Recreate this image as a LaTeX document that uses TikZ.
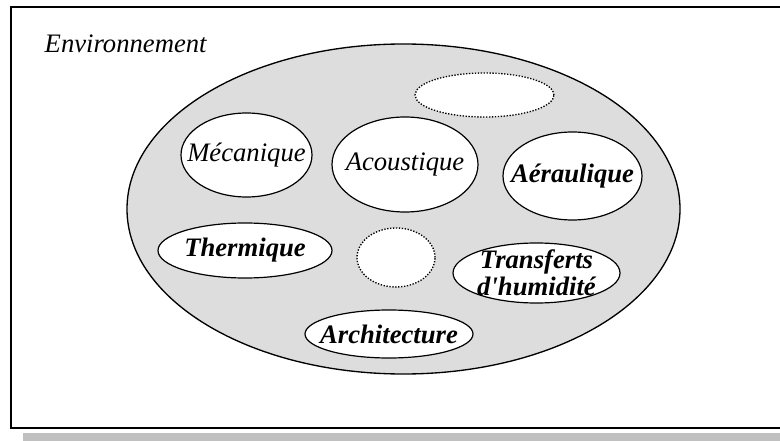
\documentclass[tikz,border=0pt]{standalone}
\usepackage{fontspec}
\setmainfont{Liberation Serif}
\usepackage{tikz}
\usetikzlibrary{shapes.geometric}

\begin{document}
\begin{tikzpicture}[x=0.75pt,y=0.75pt,yscale=-1,xscale=1,
        areabox/.style={ellipse, draw, line width=0.9pt, fill=white, inner sep=0pt},
        itext/.style={font=\fontsize{20}{20}\selectfont\itshape, inner sep=0pt},
        btext/.style={font=\fontsize{20}{20}\selectfont\bfseries\itshape, inner sep=0pt, align=center},
        voidbox/.style={ellipse, draw, line width=1pt, dash pattern=on 1pt off 1.2pt, fill=white, inner sep=0pt}]
        \useasboundingbox (0,0) rectangle (780,441);
        \clip (0,0) rectangle (780,441);
        % frame and shadow
        \fill [color={rgb,255:red,192;green,192;blue,192}] (23,433) rectangle (790,441);
        \draw [line width=1.2pt] (11,7) rectangle (790,428);
        \node (env) at (40,53) [anchor=base west, font=\fontsize{20}{20}\selectfont\itshape] {Environnement};
        % big ellipse
        \node (field) at (403.5,209) [ellipse, draw, line width=1pt, fill={rgb,255:red,221;green,221;blue,221}, minimum width=414.75pt, minimum height=247.5pt] {};
        % domains
        \node (meca) at (246.5,155) [areabox, minimum width=98.25pt, minimum height=63pt, label={[itext]center:Mécanique}] {};
        \node (acou) at (405,164.5) [areabox, minimum width=109.5pt, minimum height=71.25pt, label={[itext]center:Acoustique}] {};
        \node (aera) at (572.5,176) [areabox, minimum width=104.25pt, minimum height=66pt, label={[btext]center:Aéraulique}] {};
        \node (therm) at (245,250.5) [areabox, minimum width=130.5pt, minimum height=41.25pt, label={[btext]center:Thermique}] {};
        \node (archi) at (389,334) [areabox, minimum width=126pt, minimum height=36pt, label={[btext]center:Architecture}] {};
        \node (humid) at (536.5,273) [areabox, minimum width=125.25pt, minimum height=45pt, label={[btext]center:Transferts\\d\textquotesingle humidité}] {};
        \node (free1) at (484.5,95) [voidbox, minimum width=104.25pt, minimum height=33pt] {};
        \node (free2) at (396,257.5) [voidbox, minimum width=58.5pt, minimum height=44.25pt] {};
    \end{tikzpicture}
\end{document}
